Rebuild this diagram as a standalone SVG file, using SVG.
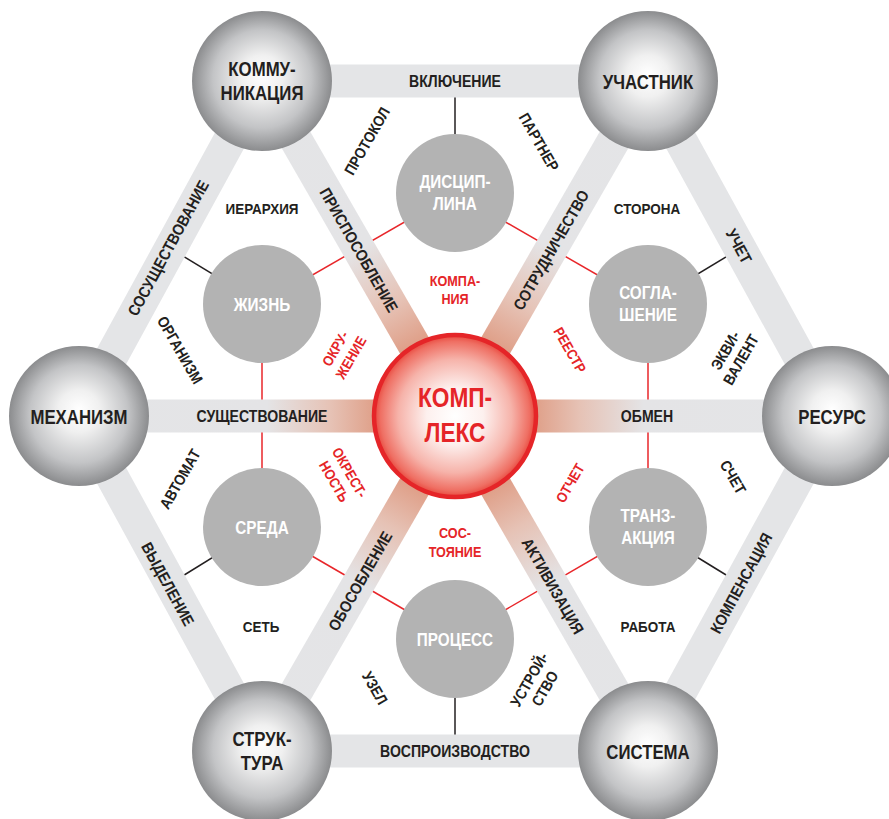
<svg xmlns="http://www.w3.org/2000/svg" width="889" height="819" viewBox="0 0 889 819">
<defs>
<style>
.t{font-family:"Liberation Sans",Arial,sans-serif;font-weight:bold;text-anchor:middle}
.on{font-size:21px;fill:#231f20}
.in{font-size:18px;fill:#ffffff}
.ce{font-size:28px;fill:#e52528}
.lb{font-size:16px;fill:#231f20}
.rg{font-size:15.5px;fill:#231f20}
.rd{font-size:14.5px;fill:#e52528}
.bar{stroke:#e4e5e7;stroke-width:33;fill:none}
.red{stroke:#e8262a;stroke-width:1.5}
.blk{stroke:#231f20;stroke-width:1.5}
.inner{fill:#b3b3b3}
.sphere{fill:url(#sph)}
</style>
<linearGradient id="sg" x1="0" y1="0" x2="1" y2="0">
<stop offset="0" stop-color="#d9826a"/>
<stop offset="0.21" stop-color="#df9f88"/>
<stop offset="0.33" stop-color="#e6c2b5"/>
<stop offset="0.5" stop-color="#e4e4e6"/>
<stop offset="1" stop-color="#e4e5e7"/>
</linearGradient>
<radialGradient id="sph" cx="0.5" cy="0.5" r="0.5" fx="0.5" fy="0.45">
<stop offset="0" stop-color="#ffffff"/>
<stop offset="0.3" stop-color="#f0f0f0"/>
<stop offset="0.7" stop-color="#c3c4c6"/>
<stop offset="1" stop-color="#8b8c8e"/>
</radialGradient>
<radialGradient id="cg" cx="0.5" cy="0.5" r="0.5">
<stop offset="0" stop-color="#ffffff"/>
<stop offset="0.35" stop-color="#fdf0ee"/>
<stop offset="0.7" stop-color="#f6b3aa"/>
<stop offset="0.92" stop-color="#ef6f63"/>
<stop offset="1" stop-color="#e8463c"/>
</radialGradient>
</defs>
<rect width="889" height="819" fill="#ffffff"/>

<g id="connectors">
<!-- red links between inner nodes -->
<line class="red" x1="455" y1="193" x2="262" y2="304"/>
<line class="red" x1="455" y1="193" x2="648" y2="304"/>
<line class="red" x1="262" y1="304" x2="262" y2="527"/>
<line class="red" x1="648" y1="304" x2="648" y2="527"/>
<line class="red" x1="262" y1="527" x2="455" y2="639"/>
<line class="red" x1="648" y1="527" x2="455" y2="639"/>
<!-- black ties to outer bars -->
<line class="blk" x1="455" y1="193" x2="455" y2="81"/>
<line class="blk" x1="262" y1="304" x2="170.5" y2="248.5"/>
<line class="blk" x1="648" y1="304" x2="740" y2="248.5"/>
<line class="blk" x1="262" y1="527" x2="170.5" y2="583.5"/>
<line class="blk" x1="648" y1="527" x2="740" y2="583.5"/>
<line class="blk" x1="455" y1="639" x2="455" y2="751"/>
<!-- outer hexagon bars -->
<line class="bar" x1="262" y1="81" x2="648" y2="81"/>
<line class="bar" x1="648" y1="81" x2="832" y2="416"/>
<line class="bar" x1="832" y1="416" x2="648" y2="751"/>
<line class="bar" x1="648" y1="751" x2="262" y2="751"/>
<line class="bar" x1="262" y1="751" x2="79" y2="416"/>
<line class="bar" x1="79" y1="416" x2="262" y2="81"/>
<!-- spokes -->
<rect x="0" y="-16.5" width="387" height="33" fill="url(#sg)" transform="translate(455,416) rotate(-119.94)"/>
<rect x="0" y="-16.5" width="387" height="33" fill="url(#sg)" transform="translate(455,416) rotate(-60.06)"/>
<rect x="0" y="-16.5" width="377" height="33" fill="url(#sg)" transform="translate(455,416)"/>
<rect x="0" y="-16.5" width="387" height="33" fill="url(#sg)" transform="translate(455,416) rotate(60.06)"/>
<rect x="0" y="-16.5" width="387" height="33" fill="url(#sg)" transform="translate(455,416) rotate(119.94)"/>
<rect x="0" y="-16.5" width="376" height="33" fill="url(#sg)" transform="translate(455,416) rotate(180)"/>
<!-- bar labels -->
<text class="t lb" transform="translate(455,81) scale(.88,1)" y="5.8">ВКЛЮЧЕНИЕ</text>
<text class="t lb" transform="translate(455,751) scale(.88,1)" y="5.8">ВОСПРОИЗВОДСТВО</text>
<text class="t lb" transform="translate(168,248) rotate(-61.4) scale(.88,1)" y="5.8">СОСУЩЕСТВОВАНИЕ</text>
<text class="t lb" transform="translate(168,584) rotate(61.4) scale(.88,1)" y="5.8">ВЫДЕЛЕНИЕ</text>
<text class="t lb" transform="translate(739,246) rotate(61.4) scale(.88,1)" y="5.8">УЧЕТ</text>
<text class="t lb" transform="translate(741,583) rotate(-61.4) scale(.88,1)" y="5.8">КОМПЕНСАЦИЯ</text>
<text class="t lb" transform="translate(359,250) rotate(60.06) scale(.88,1)" y="5.8">ПРИСПОСОБЛЕНИЕ</text>
<text class="t lb" transform="translate(551,250) rotate(-60.06) scale(.88,1)" y="5.8">СОТРУДНИЧЕСТВО</text>
<text class="t lb" transform="translate(262,416) scale(.88,1)" y="5.8">СУЩЕСТВОВАНИЕ</text>
<text class="t lb" transform="translate(647,416) scale(.88,1)" y="5.8">ОБМЕН</text>
<text class="t lb" transform="translate(360,581) rotate(-60.06) scale(.88,1)" y="5.8">ОБОСОБЛЕНИЕ</text>
<text class="t lb" transform="translate(553,586) rotate(60.06) scale(.88,1)" y="5.8">АКТИВИЗАЦИЯ</text>
</g>

<g id="labels-black">
<text class="t rg" transform="translate(262,208) scale(.87,1)" y="5.5">ИЕРАРХИЯ</text>
<text class="t rg" transform="translate(647,208) scale(.87,1)" y="5.5">СТОРОНА</text>
<text class="t rg" transform="translate(261,626) scale(.87,1)" y="5.5">СЕТЬ</text>
<text class="t rg" transform="translate(648,626) scale(.87,1)" y="5.5">РАБОТА</text>
<text class="t rg" transform="translate(367,141) rotate(-60) scale(.87,1)" y="5.5">ПРОТОКОЛ</text>
<text class="t rg" transform="translate(539,142) rotate(60) scale(.87,1)" y="5.5">ПАРТНЕР</text>
<text class="t rg" transform="translate(180,350) rotate(60) scale(.87,1)" y="5.5">ОРГАНИЗМ</text>
<text class="t rg" transform="translate(180,479) rotate(-60) scale(.87,1)" y="5.5">АВТОМАТ</text>
<text class="t rg" transform="translate(733,477) rotate(60) scale(.87,1)" y="5.5">СЧЕТ</text>
<text class="t rg" transform="translate(375,688) rotate(60) scale(.87,1)" y="5.5">УЗЕЛ</text>
<text class="t rg" transform="translate(733,355) rotate(-60) scale(.87,1)"><tspan x="0" y="-3.5">ЭКВИ-</tspan><tspan x="0" y="14.5">ВАЛЕНТ</tspan></text>
<text class="t rg" transform="translate(537,684) rotate(-60) scale(.87,1)"><tspan x="0" y="-3.5">УСТРОЙ-</tspan><tspan x="0" y="14.5">СТВО</tspan></text>
</g>

<g id="labels-red">
<text class="t rd" transform="translate(455,0) scale(.87,1)"><tspan x="0" y="286">КОМПА-</tspan><tspan x="0" y="304">НИЯ</tspan></text>
<text class="t rd" transform="translate(455,0) scale(.87,1)"><tspan x="0" y="538">СОС-</tspan><tspan x="0" y="557">ТОЯНИЕ</tspan></text>
<text class="t rd" transform="translate(343,353) rotate(-60) scale(.87,1)"><tspan x="0" y="-3.8">ОКРУ-</tspan><tspan x="0" y="14.2">ЖЕНИЕ</tspan></text>
<text class="t rd" transform="translate(570,350) rotate(60) scale(.87,1)" y="5.2">РЕЕСТР</text>
<text class="t rd" transform="translate(342,477) rotate(60) scale(.87,1)"><tspan x="0" y="-3.8">ОКРЕСТ-</tspan><tspan x="0" y="14.2">НОСТЬ</tspan></text>
<text class="t rd" transform="translate(570,483) rotate(-60) scale(.87,1)" y="5.2">ОТЧЕТ</text>
</g>

<g id="node-discipline"><circle class="inner" cx="455" cy="193" r="59"/><text class="t in" transform="translate(455,193) scale(.85,1)"><tspan x="0" y="-5">ДИСЦИП-</tspan><tspan x="0" y="17">ЛИНА</tspan></text></g>
<g id="node-life"><circle class="inner" cx="262" cy="304" r="59"/><text class="t in" transform="translate(262,304) scale(.85,1)" y="6.5">ЖИЗНЬ</text></g>
<g id="node-agreement"><circle class="inner" cx="648" cy="304" r="59"/><text class="t in" transform="translate(648,304) scale(.85,1)"><tspan x="0" y="-5">СОГЛА-</tspan><tspan x="0" y="17">ШЕНИЕ</tspan></text></g>
<g id="node-environment"><circle class="inner" cx="262" cy="527" r="59"/><text class="t in" transform="translate(262,527) scale(.85,1)" y="6.5">СРЕДА</text></g>
<g id="node-transaction"><circle class="inner" cx="648" cy="527" r="59"/><text class="t in" transform="translate(648,527) scale(.85,1)"><tspan x="0" y="-5">ТРАНЗ-</tspan><tspan x="0" y="17">АКЦИЯ</tspan></text></g>
<g id="node-process"><circle class="inner" cx="455" cy="639" r="59"/><text class="t in" transform="translate(455,639) scale(.85,1)" y="6.5">ПРОЦЕСС</text></g>

<g id="node-communication"><circle class="sphere" cx="262" cy="81" r="70"/><text class="t on" transform="translate(262,81) scale(.8,1)"><tspan x="0" y="-5.5">КОММУ-</tspan><tspan x="0" y="18.5">НИКАЦИЯ</tspan></text></g>
<g id="node-participant"><circle class="sphere" cx="648" cy="81" r="70"/><text class="t on" transform="translate(648,81) scale(.8,1)" y="7.5">УЧАСТНИК</text></g>
<g id="node-resource"><circle class="sphere" cx="832" cy="416" r="70"/><text class="t on" transform="translate(832,416) scale(.8,1)" y="7.5">РЕСУРС</text></g>
<g id="node-system"><circle class="sphere" cx="648" cy="751" r="70"/><text class="t on" transform="translate(648,751) scale(.8,1)" y="7.5">СИСТЕМА</text></g>
<g id="node-structure"><circle class="sphere" cx="262" cy="751" r="70"/><text class="t on" transform="translate(262,751) scale(.8,1)"><tspan x="0" y="-5.5">СТРУК-</tspan><tspan x="0" y="18.5">ТУРА</tspan></text></g>
<g id="node-mechanism"><circle class="sphere" cx="79" cy="416" r="70"/><text class="t on" transform="translate(79,416) scale(.8,1)" y="7.5">МЕХАНИЗМ</text></g>

<g id="node-complex"><circle cx="455" cy="416" r="81" fill="url(#cg)" stroke="#e52528" stroke-width="4.5"/><text class="t ce" transform="translate(455,416) scale(.81,1)"><tspan x="0" y="-9">КОМП-</tspan><tspan x="0" y="26">ЛЕКС</tspan></text></g>
</svg>
